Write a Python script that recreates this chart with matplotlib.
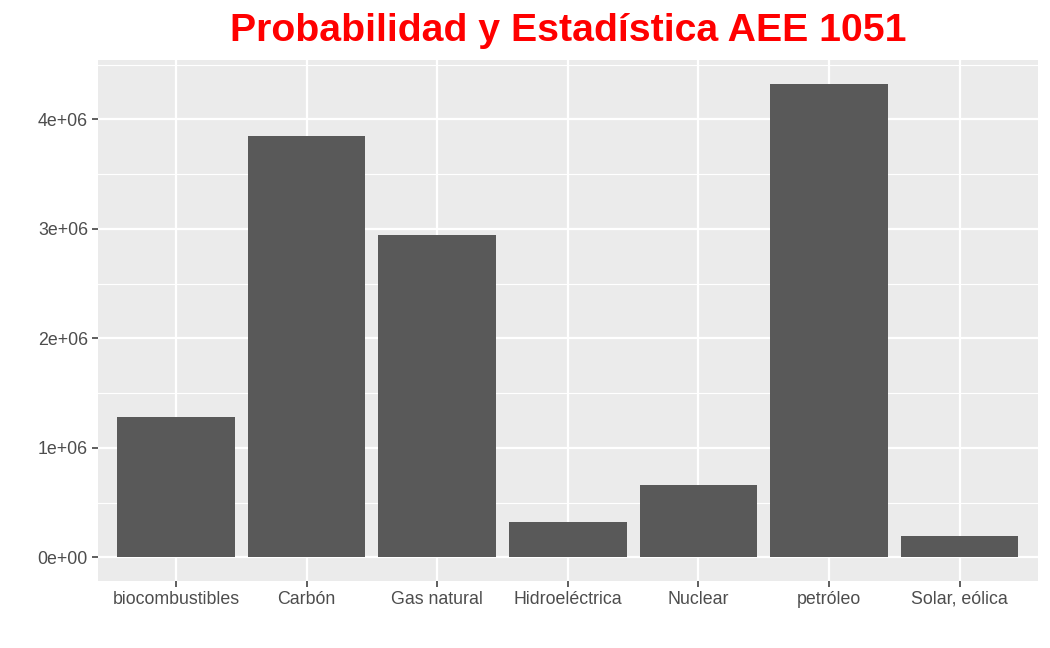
import matplotlib
matplotlib.use("Agg")
import matplotlib.pyplot as plt
from matplotlib.ticker import MultipleLocator

# Datos
fuentes = ["biocombustibles", "Carbón", "Gas natural", "Hidroeléctrica",
           "Nuclear", "petróleo", "Solar, eólica"]
valores = [1283000, 3844000, 2942000, 319000, 658000, 4326000, 192000]
etiquetas_y = ["0e+00", "1e+06", "2e+06", "3e+06", "4e+06"]

plt.rcParams["font.family"] = ["Liberation Sans", "DejaVu Sans"]

fig = plt.figure(figsize=(10.5, 6.48), dpi=100)
ax = fig.add_axes([0.093, 0.1034, 0.8956, 0.804])
ax.set_facecolor("#EBEBEB")

pos = list(range(len(fuentes)))
ax.bar(pos, valores, width=0.9, color="#595959", zorder=3)

ax.set_xlim(-0.6, len(fuentes) - 0.4)
ymax = max(valores)
ax.set_ylim(-0.05 * ymax, 1.05 * ymax)

ax.set_xticks(pos)
ax.set_xticklabels(fuentes)
ax.set_yticks([i * 1e6 for i in range(len(etiquetas_y))])
ax.set_yticklabels(etiquetas_y)
ax.yaxis.set_minor_locator(MultipleLocator(5e5))
ax.tick_params(axis="y", which="minor", length=0)

ax.grid(True, which="major", color="white", linewidth=1.6, zorder=0)
ax.grid(True, which="minor", axis="y", color="white", linewidth=0.8, zorder=0)
ax.set_axisbelow(True)

for s in ax.spines.values():
    s.set_visible(False)

ax.tick_params(axis="both", which="major", length=4, width=1.1, color="#333333",
               labelcolor="#4D4D4D", labelsize=12.8, pad=3)

ax.set_title("Probabilidad y Estadística AEE 1051", color="red",
             fontsize=28.3, fontweight="bold", pad=14)

fig.savefig("out.png", dpi=100)
